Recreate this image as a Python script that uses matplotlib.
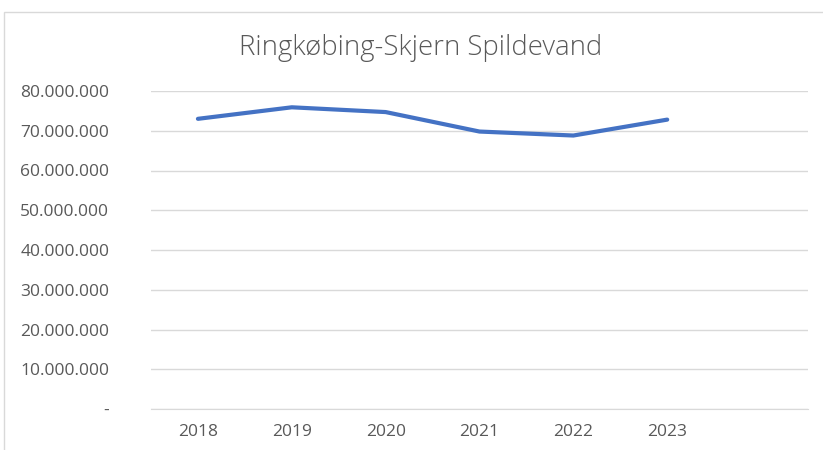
import numpy as np
import matplotlib.pyplot as plt
from matplotlib.patches import Rectangle
from matplotlib.ticker import FuncFormatter

years = ['2018', '2019', '2020', '2021', '2022', '2023', '']
spildevand = [73.0e6, 75.9e6, 74.7e6, 69.8e6, 68.8e6, 72.8e6, np.nan]

plt.rcParams['font.family'] = ['Open Sans', 'DejaVu Sans']
grey = '#595959'

fig = plt.figure(figsize=(8.23, 4.5), dpi=100)
ax = fig.add_axes([151/823, 1 - 409/450, (808 - 151)/823, (409 - 91)/450])

x = np.arange(len(years))
ax.plot(x, spildevand, color='#4472C4', linewidth=3, solid_capstyle='round')

ax.set_xlim(-0.5, len(years) - 0.5)
ax.set_xticks(x)
ax.set_xticklabels(years)
ax.set_ylim(0, 80e6)
ax.set_yticks(np.arange(0, 80e6 + 1, 10e6))

def fmt(v, pos):
    if v == 0:
        return '-'
    return f'{int(v):,}'.replace(',', '.')

ax.yaxis.set_major_formatter(FuncFormatter(fmt))
ax.grid(axis='y', color='#d9d9d9', linewidth=1)
ax.set_axisbelow(True)
for s in ['top', 'right', 'left']:
    ax.spines[s].set_visible(False)
ax.spines['bottom'].set_color('#d9d9d9')
ax.tick_params(axis='both', length=0, colors=grey, labelsize=12.5)
ax.tick_params(axis='y', pad=30)
ax.tick_params(axis='x', pad=11)

fig.text(0.511, 1 - 48/450, 'Ringkøbing-Skjern Spildevand', ha='center', va='center',
         fontsize=19.8, color=grey, fontweight='light')

fig.patches.append(Rectangle((4/823, -0.1), 1.1, 1 - 12/450 + 0.1, transform=fig.transFigure,
                             fill=False, edgecolor='#d9d9d9', linewidth=1))

plt.savefig('out.png', dpi=100)
